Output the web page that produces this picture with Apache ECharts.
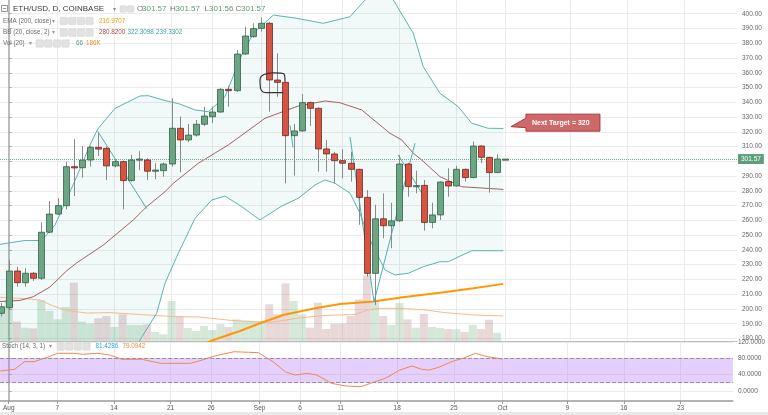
<!DOCTYPE html>
<html><head><meta charset="utf-8">
<script src="https://cdn.jsdelivr.net/npm/echarts@6/dist/echarts.min.js"></script>
<style>html,body{margin:0;padding:0;background:#fff}#c{width:768px;height:415px}</style>
</head><body><div id="c"></div>
<script>
// ---- DATA (day index: 0 = Aug 1 2017) ----
const days   = [-1,0,1,2,3,4,5,6,7,8,9,10,11,12,13,14,15,16,17,18,19,20,21,22,23,24,25,26,27,28,29,30,31,32,33,34,35,36,37,38,39,40,41,42,43,44,45,46,47,48,49,50,51,52,53,54,55,56,57,58,59,60,61];
const opens  = [197.0,200.9,225.7,217.8,224.2,220.8,252.0,264.3,270.0,296.4,295.7,300.9,309.5,308.8,296.9,299.8,287.0,300.9,300.9,293.3,293.7,298.2,322.4,314.5,317.8,325.1,330.2,333.4,348.8,347.9,372.7,384.5,390.1,393.5,355.1,353.5,317.4,320.6,339.8,335.9,308.4,305.0,300.5,298.7,294.6,275.6,224.1,261.1,256.4,259.7,298.2,283.0,283.7,258.6,263.7,286.3,283.3,294.6,289.0,310.4,302.7,292.4,301.57];
const highs  = [204.0,233.2,228.6,227.6,225.0,258.7,273.1,275.0,299.8,314.9,310.4,310.5,319.0,310.0,300.9,300.5,304.4,306.9,302.0,298.7,299.1,342.7,330.4,325.3,328.0,337.0,337.0,349.5,351.0,375.4,391.2,393.5,397.5,394.6,373.2,354.0,325.3,345.6,340.5,336.5,314.5,306.5,308.2,306.5,295.0,280.5,270.6,278.3,272.0,304.3,299.0,293.7,287.4,272.0,286.5,295.3,296.9,295.0,313.4,311.0,303.0,304.8,301.57];
const lows   = [195.0,199.3,215.1,215.1,219.0,219.7,251.3,263.6,267.5,276.5,288.9,296.4,303.6,287.4,296.0,267.5,286.3,294.1,287.4,287.9,289.6,296.4,292.6,313.0,316.8,324.0,325.9,333.0,337.0,347.0,372.0,383.8,387.9,333.6,343.8,285.1,290.3,320.0,323.9,293.0,293.0,285.1,288.5,286.3,257.0,221.9,202.7,247.9,241.2,259.0,276.0,278.3,253.0,254.6,260.3,276.0,282.9,286.3,288.5,298.7,278.8,292.0,301.56];
const closes = [201.5,225.7,217.8,224.2,220.8,252.0,264.3,270.0,296.4,295.5,300.9,309.5,308.3,296.9,299.8,287.0,300.9,301.6,293.3,294.1,298.2,322.4,314.5,317.8,325.1,330.7,333.4,348.8,347.9,372.7,384.9,389.9,393.5,355.1,353.5,317.4,320.6,339.8,335.9,308.4,305.0,300.5,298.7,294.6,275.6,224.1,261.1,256.4,259.7,298.2,282.9,283.6,258.6,263.7,286.0,283.3,294.6,289.0,310.4,302.7,292.4,301.57,301.57];
const volumes= [200,310,144,99,94,303,223,161,253,434,144,129,169,186,104,199,119,119,124,67,50,298,186,97,74,112,82,126,104,161,151,149,149,273,199,429,298,199,99,285,89,129,130,186,310,487,298,186,119,283,161,99,201,104,97,89,87,67,119,89,158,62,0.066];
// indicator readings [day, value]
const bbBasis = [[-1.07,205.0],[1.39,205.8],[3.02,208.3],[5.07,214.9],[7.13,225.9],[8.35,231.2],[11.62,243.3],[15.31,260.3],[16.95,269.3],[19.2,279.4],[20.22,285.1],[23.29,298.7],[26.98,311.1],[31.49,329.2],[35.58,337.5],[38.86,340.9],[40.7,339.7],[43.37,334.8],[46.84,319.0],[48.28,314.5],[49.71,305.5],[50.74,300.9],[52.99,289.6],[55.65,282.8],[60.76,281.0]];
const bbUpper = [[-1.07,243.8],[2.0,246.4],[4.05,246.4],[5.69,256.9],[8.35,289.6],[9.99,311.1],[10.93,321.9],[13.06,335.9],[16.13,344.3],[17.15,344.5],[18.99,341.5],[21.04,338.8],[22.89,334.8],[24.52,333.6],[26.57,343.8],[28.62,372.0],[30.05,386.7],[32.51,399.1],[35.38,396.9],[38.65,393.5],[41.93,398.0],[43.77,409.3],[45.37,417.4],[47.25,409.3],[49.71,386.7],[50.93,364.1],[52.99,346.1],[55.23,337.0],[56.88,325.8],[58.91,322.4],[60.76,322.3]];
const bbLower = [[-1.07,166.0],[4.0,170.0],[8.0,172.0],[11.6,156.0],[14.9,165.5],[16.13,179.0],[18.18,197.1],[19.2,217.4],[20.83,237.7],[22.89,261.4],[24.94,273.8],[26.57,276.5],[28.62,269.3],[30.87,260.3],[33.57,269.8],[35.58,275.0],[37.63,284.0],[38.86,287.4],[40.09,285.1],[41.93,278.4],[43.16,264.8],[44.18,249.0],[45.21,237.7],[46.23,226.4],[47.46,223.0],[49.09,224.2],[50.93,228.6],[52.99,232.0],[54.0,232.0],[56.88,239.5],[60.76,239.4]];
const ema200  = [[24.12,176.6],[25.14,179.0],[28.42,185.1],[30.87,190.3],[33.73,195.9],[37.63,200.5],[40.7,203.4],[44.79,205.0],[48.89,208.3],[52.99,211.0],[57.08,214.0],[60.76,217.0]];
const volMA   = [[-1.07,325],[1.39,318],[3.85,305],[5.48,260],[7.13,227],[9.58,208],[12.44,211],[16.13,197],[20.22,182],[23.29,179],[27.4,153],[30.87,141],[32.51,141],[35.58,171],[38.86,190],[42.54,197],[44.18,231],[45.41,243],[48.28,243],[51.14,231],[53.59,211],[57.27,193],[60.76,186]];
const stoch   = [[-1.07,48.7],[0.74,52.9],[1.94,71.6],[3.14,71.6],[4.95,83.8],[6.03,92.2],[7.96,92.2],[9.16,89.7],[10.97,92.2],[12.48,88.0],[13.98,77.5],[16.4,77.5],[18.81,67.6],[22.42,67.6],[23.62,74.0],[25.43,85.6],[27.84,96.1],[29.64,94.7],[30.85,93.7],[32.65,71.6],[34.16,47.0],[35.37,38.8],[36.87,43.0],[38.07,38.8],[39.88,18.4],[41.68,11.8],[43.49,10.1],[44.69,18.4],[46.51,30.7],[48.32,51.1],[49.82,61.0],[51.02,52.9],[51.93,51.1],[53.13,57.8],[54.94,73.3],[56.14,79.9],[57.65,92.2],[59.15,83.8],[60.96,78.2]];
// user drawings [day, price]
const trendLines = [
  [[10.93,320.4],[16.95,268.0]],
  [[34.56,324.4],[34.93,309.4]],
  [[41.93,316.5],[44.88,204.8],[49.91,312.3]],
  [[47.86,304.3],[50.73,278.6]]
];
const circleMark = [[33.94,353.9],[33.82,359.2],[32.5,360.0],[31.36,358.8],[30.87,355.1],[30.93,349.7],[31.73,346.5],[33.73,346.5]];
const targetPoint = [61.7,323.5];
// axes ticks
const xTickDays   = [0,6,13,20,25,31,36,41,48,55,61,69,76,83];
const xTickLabels = ['Aug','7','14','21','26','Sep','6','11','18','25','Oct','9','16','23'];
const priceTicks  = [180,190,200,210,220,230,240,250,260,270,280,290,300,310,320,330,340,350,360,370,380,390,400];
const stochTicks  = [0,40,80,120];
const lastPrice = 301.57;

// ---- CHART ----
const chart = echarts.init(document.getElementById('c'), null, {renderer:'canvas'});
const FONT = 'Liberation Sans, Arial, sans-serif';
const GRID_C = '#ebebeb';
const UP='#6ba583', DN='#d75442', UPB='#225437', DNB='#5b1a13';
const xMin=-1.07, xMax=89.47;

const candleData = days.map((d,k)=>[d, opens[k], closes[k], lows[k], highs[k]]);
const volData = days.map((d,k)=>[d, volumes[k]]);

function xAxisBase(grid, showLabels){
  return {type:'value', gridIndex:grid, min:xMin, max:xMax,
    axisLine:{show:grid!==1, onZero:false, lineStyle:{color: grid===2?'#9a9a9a':'#bdbdbd', width: grid===2?1.5:1}},
    axisTick:{show:showLabels, customValues:xTickDays, length:3, lineStyle:{color:'#9a9a9a'}},
    axisLabel:{show:showLabels, customValues:xTickDays, fontSize:6.5, color:'#555', fontFamily:FONT, margin:4,
      formatter:(v)=>{const k=xTickDays.indexOf(Math.round(v)); return k>=0?xTickLabels[k]:'';}},
    splitLine:{show:grid!==1, lineStyle:{color:GRID_C, width:1}}};
}

const option = {
  animation:false,
  backgroundColor:'#fff',
  grid:[
    {left:0, right:31, top:0, height:341},
    {left:0, right:31, top:0, height:341},
    {left:0, right:31, top:342, height:59}
  ],
  xAxis:[xAxisBase(0,false), xAxisBase(1,false), xAxisBase(2,true)],
  yAxis:[
    {type:'value', gridIndex:0, position:'right', min:178.3, max:409.3,
      axisLine:{show:true, lineStyle:{color:'#a8a8a8', width:1.5}},
      axisTick:{show:true, customValues:priceTicks, length:3, lineStyle:{color:'#a8a8a8'}},
      axisLabel:{customValues:priceTicks, fontSize:6.5, color:'#666', fontFamily:FONT, margin:5, formatter:v=>v.toFixed(2)},
      splitLine:{show:true, lineStyle:{color:GRID_C}}},
    {type:'value', gridIndex:1, min:0, max:2537, show:false, splitLine:{show:false}},
    {type:'value', gridIndex:2, position:'right', min:-25, max:120,
      axisLine:{show:true, lineStyle:{color:'#a8a8a8', width:1.5}},
      axisTick:{show:true, customValues:stochTicks, length:3, lineStyle:{color:'#a8a8a8'}},
      axisLabel:{customValues:stochTicks, fontSize:6.5, color:'#666', fontFamily:FONT, margin:5, formatter:v=>v.toFixed(4)},
      splitLine:{show:true, lineStyle:{color:GRID_C}}}
  ],
  series:[
    {type:'bar', name:'vol', xAxisIndex:1, yAxisIndex:1, data:volData, barWidth:8, z:1,
      itemStyle:{color:(p)=> closes[p.dataIndex]>=opens[p.dataIndex] ? 'rgba(100,170,115,0.27)' : 'rgba(170,110,110,0.27)'}},
    {type:'line', name:'volMA', xAxisIndex:1, yAxisIndex:1, data:volMA, showSymbol:false, z:2,
      lineStyle:{color:'#f7b98a', width:1}},
    {type:'custom', name:'bbfill', xAxisIndex:0, yAxisIndex:0, data:[[0,300]], clip:true, z:2, silent:true,
      renderItem:(params, api)=>{
        const pts = bbUpper.map(p=>api.coord(p)).concat(bbLower.slice().reverse().map(p=>api.coord(p)));
        return {type:'polygon', shape:{points:pts}, style:{fill:'rgba(0,140,140,0.055)'}};
      }},
    {type:'line', name:'upper', data:bbUpper, showSymbol:false, z:3, lineStyle:{color:'#5ab3b0', width:1}},
    {type:'line', name:'lower', data:bbLower, showSymbol:false, z:3, lineStyle:{color:'#5ab3b0', width:1}},
    {type:'line', name:'basis', data:bbBasis, showSymbol:false, z:3, lineStyle:{color:'#a56060', width:1},
      markLine:{silent:true, symbol:['none','none'],
        lineStyle:{type:'dotted', color:'#6aae8a', width:1},
        label:{position:'end', formatter:lastPrice.toFixed(2), backgroundColor:'#5e9f7b', color:'#fff',
          fontSize:6.5, fontFamily:FONT, padding:[2,3,1,3], distance:1},
        data:[{yAxis:lastPrice}]}},
    {type:'line', name:'ema', data:ema200, showSymbol:false, z:3, lineStyle:{color:'#ff9800', width:2}},
    ...trendLines.map(seg=>({type:'line', data:seg, showSymbol:false, z:4, lineStyle:{color:'#4fb0ad', width:1}})),
    {type:'line', name:'circle', data:circleMark, smooth:0.5, showSymbol:false, z:6, lineStyle:{color:'#333', width:1.2}},
    {type:'custom', name:'candles', xAxisIndex:0, yAxisIndex:0, data:candleData, clip:true, z:5,
      encode:{x:0, y:[1,2,3,4]},
      renderItem:(params, api)=>{
        const d=api.value(0), o=api.value(1), c=api.value(2), l=api.value(3), h=api.value(4);
        const po=api.coord([d,o]), pc=api.coord([d,c]), pl=api.coord([d,l]), ph=api.coord([d,h]);
        const x=Math.round(po[0])+0.5, up=c>=o, w=6;
        const top=Math.min(po[1],pc[1]), bot=Math.max(po[1],pc[1]);
        return {type:'group', children:[
          {type:'line', shape:{x1:x,y1:ph[1],x2:x,y2:pl[1]}, style:{stroke:'#8a8a8a', lineWidth:1}},
          {type:'rect', shape:{x:x-w/2, y:top, width:w, height:Math.max(bot-top,1.2)},
            style:{fill: up?UP:DN, stroke: up?UPB:DNB, lineWidth:0.7}}
        ]};
      }},
    {type:'line', name:'stoch', xAxisIndex:2, yAxisIndex:2, data:stoch, showSymbol:false, z:4,
      lineStyle:{color:'#f2874e', width:1},
      markArea:{silent:true, itemStyle:{color:'rgba(180,120,245,0.35)'}, data:[[{yAxis:20},{yAxis:80}]]},
      markLine:{silent:true, symbol:['none','none'], label:{show:false},
        lineStyle:{type:'dashed', color:'#9a8ca8', width:1}, data:[{yAxis:80},{yAxis:20}]}}
  ]
};
chart.setOption(option);

// ---- header texts & annotations ----
function txt(x,y,s,color,size,weight){
  return {type:'text', x:x, y:y, z:100, style:{text:s, fill:color, font:(weight||'normal')+' '+size+'px '+FONT, textVerticalAlign:'middle'}};
}
function icons(x,y,n,sz,step){
  const a=[];
  for(let k=0;k<n;k++) a.push({type:'rect', z:100, shape:{x:x+k*step, y:y-sz/2, width:sz, height:sz, r:1}, style:{fill:'#e2e2e2', stroke:'#d0d0d0', lineWidth:0.5}});
  return a;
}
const G='#4f9e73', SUB='#6b6b6b';
const tip = chart.convertToPixel({xAxisIndex:0, yAxisIndex:0}, targetPoint);
const tx=tip[0], ty=tip[1];
const gfx = [
  {type:'rect', z:100, shape:{x:1.5,y:5.5,width:6,height:6}, style:{fill:'#fff', stroke:'#777', lineWidth:0.8}},
  {type:'line', z:100, shape:{x1:3,y1:8.5,x2:6,y2:8.5}, style:{stroke:'#777', lineWidth:0.8}},
  txt(13,9,'ETH/USD, D, COINBASE','#3a3a3a',8,'normal'),
  txt(113,9,'▾','#888',6),
  ...icons(120,9,2,6.5,7.3),
  txt(137,9,'O','#777',8), txt(142,9,'301.57',G,8),
  txt(170,9,'H','#777',8), txt(175.5,9,'301.57',G,8),
  txt(204.5,9,'L','#777',8), txt(209,9,'301.56',G,8),
  txt(235.5,9,'C','#777',8), txt(241,9,'301.57',G,8),
  txt(3,21,'EMA (200, close)',SUB,6.3), txt(52,21,'▾','#999',5.5), ...icons(60,21,4,7.4,8.6), txt(99,21,'216.9707','#ff9800',6.3),
  txt(3,32.7,'BB (20, close, 2)',SUB,6.3), txt(52,32.7,'▾','#999',5.5), ...icons(60,32.7,4,7.4,8.6),
  txt(99,32.7,'280.8200','#a05050',6.3), txt(127.5,32.7,'322.3098','#3e9e9a',6.3), txt(156,32.7,'239.3302','#3e9e9a',6.3),
  txt(3,43.5,'Vol (20)',SUB,6.3), txt(29,43.5,'▾','#999',5.5), ...icons(36,43.5,4,7.4,8.6), txt(76,43.5,'66',G,6.3), txt(86,43.5,'186K','#f08c3a',6.3),
  txt(2,346.5,'Stoch (14, 3, 1)',SUB,6.3), txt(49,346.5,'▾','#999',5.5), ...icons(57,346.5,4,7.4,8.6), txt(95.5,346.5,'81.4286','#2ea8e0',6.3), txt(122.5,346.5,'79.0942','#f08a3c',6.3),
  {type:'polygon', z:90, shape:{points:[[tx,ty],[tx+15,ty-8.5],[tx+15,ty-12.5],[tx+89,ty-12.5],[tx+89,ty+4.5],[tx+15,ty+4.5],[tx+15,ty+1]]},
    style:{fill:'#cf6868', stroke:'#a83a3a', lineWidth:1}},
  txt(tx+21,ty-3.8,'Next Target = 320','#fff',7,'bold'),
  {type:'rect', z:100, shape:{x:0,y:412,width:768,height:3}, style:{fill:'#e9e9e9'}}
];
chart.setOption({graphic:gfx});
</script></body></html>
